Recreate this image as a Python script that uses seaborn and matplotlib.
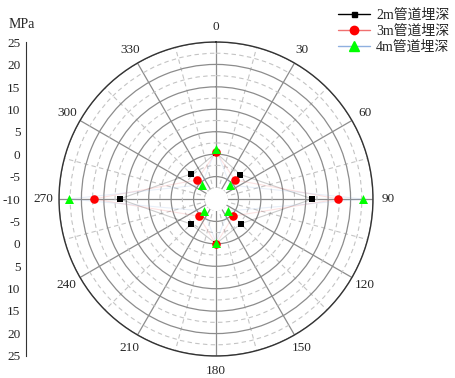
import numpy as np
import pandas as pd
import matplotlib
matplotlib.use("Agg")
import matplotlib.pyplot as plt
import seaborn as sns
from matplotlib.lines import Line2D
from matplotlib.ticker import MultipleLocator, FixedLocator

# measuring directions (degrees, clockwise from top)
angles = [0, 45, 90, 135, 180, 225, 270, 315]

# stress values (MPa) for each pipe burial depth
depth_2m = [0.3, -2.3, 11.5, -2.2, 0.0, -2.1, 11.5, -2.1]
depth_3m = [0.4, -4.0, 17.3, -4.6, 0.1, -4.6, 17.3, -4.0]
depth_4m = [1.2, -5.6, 22.7, -6.2, -0.3, -6.2, 22.8, -5.5]

series_names = ["2m管道埋深", "3m管道埋深", "4m管道埋深"]
series_values = [depth_2m, depth_3m, depth_4m]
line_colors = ["#000000", "#f07070", "#8fb0e0"]
marker_colors = ["#000000", "#ff0000", "#00ff00"]
markers = ["s", "o", "^"]
marker_sizes = [16, 38, 42]

theta_labels = ["0", "30", "60", "90", "120", "150",
                "180", "210", "240", "270", "300", "330"]
left_ticks = [-35, -30, -25, -20, -15, -10, -5, 0, 5, 10, 15, 20, 25, 30, 35]
left_labels = ["25", "20", "15", "10", "5", "0", "-5", "-10",
               "-5", "0", "5", "10", "15", "20", "25"]

r_min, r_max = -10, 25

serif = ["Liberation Serif", "Noto Sans CJK SC", "DejaVu Sans"]
sns.set_style("white")
plt.rcParams["font.family"] = serif
plt.rcParams["font.size"] = 9.5

# long-format tables for seaborn
rows, loop_rows = [], []
for name, vals in zip(series_names, series_values):
    for a, v in zip(angles, vals):
        rows.append({"series": name, "theta": np.deg2rad(a), "value": v})
        loop_rows.append({"series": name, "theta": np.deg2rad(a), "value": v})
    loop_rows.append({"series": name, "theta": np.deg2rad(angles[0]) + 2 * np.pi,
                      "value": vals[0]})
df = pd.DataFrame(rows)
df_loop = pd.DataFrame(loop_rows)

fig = plt.figure(figsize=(4.56, 3.78), dpi=100)
ax = fig.add_axes([59 / 456, 22 / 378, 314 / 456, 314 / 378], projection="polar")
ax.set_theta_zero_location("N")
ax.set_theta_direction(-1)
ax.set_ylim(r_min, r_max)
ax.set_axisbelow(True)

# grid
ax.set_yticks(np.arange(-5, 26, 5))
ax.yaxis.set_minor_locator(MultipleLocator(2.5))
ax.set_yticklabels([])
ax.set_xticks(np.deg2rad(np.arange(0, 360, 30)))
ax.set_xticklabels(theta_labels)
ax.xaxis.set_minor_locator(FixedLocator(np.deg2rad(np.arange(15, 360, 30))))
ax.grid(which="major", color="#8c8c8c", linestyle="-", linewidth=0.9)
ax.grid(which="minor", color="#c4c4c4", linestyle=(0, (4, 3)), linewidth=0.8)
ax.tick_params(axis="x", which="major", direction="in", length=5, pad=4,
               labelsize=9.5, color="#333333")
ax.tick_params(axis="x", which="minor", direction="in", length=3, color="#333333")
ax.tick_params(axis="y", which="both", length=0)
ax.spines["polar"].set_color("#333333")
ax.spines["polar"].set_linewidth(1.0)

# white hole at the centre
hole = np.linspace(0, 2 * np.pi, 200)
ax.fill_between(hole, r_min, -7.6, color="white", zorder=1)

# faint connecting lines
sns.lineplot(data=df_loop, x="theta", y="value", hue="series",
             palette=dict(zip(series_names, line_colors)), sort=False,
             estimator=None, legend=False, linewidth=0.8, alpha=0.2, ax=ax,
             zorder=2)

# markers
for name, c, m, s in zip(series_names, marker_colors, markers, marker_sizes):
    sns.scatterplot(data=df[df["series"] == name], x="theta", y="value",
                    color=c, marker=m, s=s, linewidth=0, ax=ax, zorder=3,
                    legend=False)
ax.set_xlabel("")
ax.set_ylabel("")

# left linear scale
lax = fig.add_axes([26 / 456, 22.3 / 378, 0.01, 313.4 / 378])
lax.set_ylim(-35, 35)
lax.set_yticks(left_ticks)
lax.set_yticklabels(left_labels)
lax.yaxis.set_minor_locator(MultipleLocator(2.5))
lax.set_xticks([])
lax.patch.set_visible(False)
for side in ["top", "right", "bottom"]:
    lax.spines[side].set_visible(False)
lax.spines["left"].set_color("#333333")
lax.tick_params(axis="y", which="major", direction="in", length=5, width=1,
                pad=4, labelsize=9.5, color="#333333")
lax.tick_params(axis="y", which="minor", direction="in", length=2.5,
                color="#333333")
fig.text(22 / 456, 1 - 25 / 378, "MPa", ha="center", va="center", fontsize=10)

# legend
handles = [Line2D([0], [0], color=lc, marker=m, markerfacecolor=mc,
                  markeredgecolor=mc, markersize=ms, linewidth=1.0)
           for lc, mc, m, ms in zip(line_colors, marker_colors, markers, [3.6, 6, 6.5])]
fig.legend(handles, series_names, loc="upper left",
           bbox_to_anchor=(331 / 456, 1 - 2 / 378), frameon=False, borderpad=0,
           handlelength=2.3, handletextpad=0.45, labelspacing=0.2,
           prop={"family": serif, "size": 10})

fig.savefig("out.png", dpi=100)
